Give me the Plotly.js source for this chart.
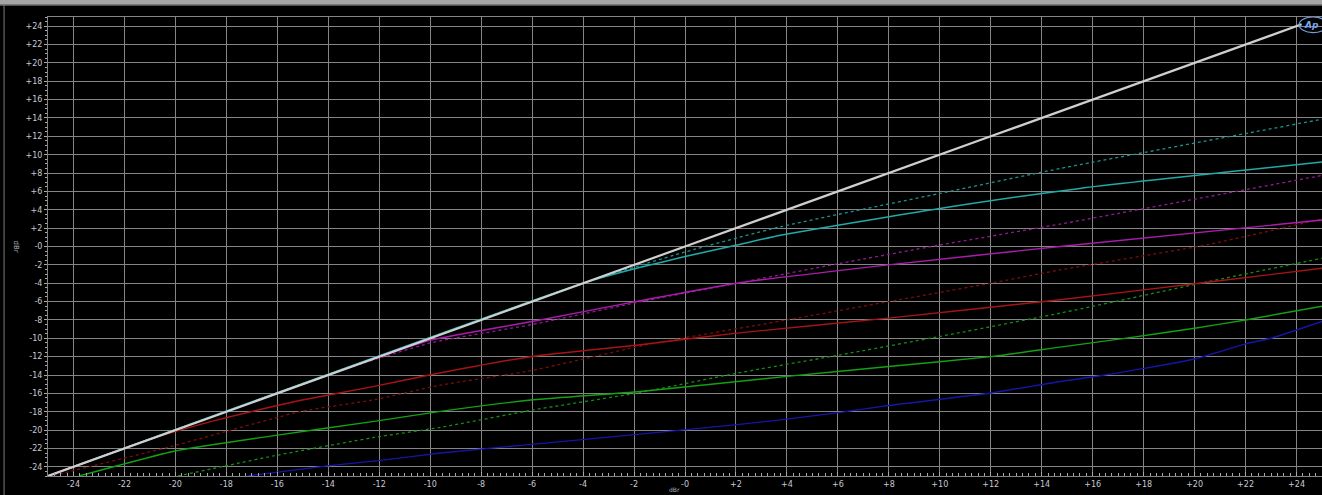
<!DOCTYPE html>
<html>
<head>
<meta charset="utf-8">
<script src="https://cdn.plot.ly/plotly-3.0.1.min.js"></script>
<style>
html,body{margin:0;padding:0;background:#000;overflow:hidden;}
#chart{width:1322px;height:495px;}
</style>
</head>
<body>
<div id="chart"></div>
<script>
// ---- data (dBr in vs dBr out) ----
const tickVals = [-24,-22,-20,-18,-16,-14,-12,-10,-8,-6,-4,-2,0,2,4,6,8,10,12,14,16,18,20,22,24];
const xTickText = ["-24","-22","-20","-18","-16","-14","-12","-10","-8","-6","-4","-2","-0","+2","+4","+6","+8","+10","+12","+14","+16","+18","+20","+22","+24"];
const yTickText = ["-24","-22","-20","-18","-16","-14","-12","-10","-8","-6","-4","-2","-0","+2","+4","+6","+8","+10","+12","+14","+16","+18","+20","+22","+24"];

const whiteX = [-25, -12, 0, 12, 24.2];
const whiteY = [-25, -12, 0, 12, 24.2];

const cyanSolidX = [-25, -4, -1.75, 0, 2.04, 3.75, 10, 15.5, 25];
const cyanSolidY = [-25, -4, -2.27, -1.1, 0.16, 1.23, 4.15, 6.33, 9.2];
const cyanDotX = [-25, -4, 0, 3.75, 10, 14.72, 25];
const cyanDotY = [-25, -4, -0.6, 2.15, 5.78, 8.5, 13.86];

const magSolidX = [-25, -13, -9.98, -6, -1.75, 2.04, 7.98, 14.72, 25];
const magSolidY = [-25, -13, -10.2, -8.17, -5.9, -4.0, -2.0, 0.0, 2.88];
const magDotX = [-25, -13.5, -9.98, -6, -1.36, 2.04, 6.1, 10, 14.72, 25];
const magDotY = [-25, -13.5, -10.5, -8.5, -5.8, -4.0, -1.83, 0.16, 2.44, 7.74];

const redSolidX = [-25, -21, -18.5, -16.13, -15.07, -12.2, -9.98, -6, -1.75, 2.04, 7.98, 14.72, 20.5, 25];
const redSolidY = [-25, -21, -19.0, -17.4, -16.75, -15.24, -13.97, -11.98, -10.7, -9.43, -7.8, -5.8, -3.9, -2.37];
const redDotX = [-25, -24.6, -20.05, -15.07, -12.2, -9.6, -6, -1.5, 4, 8, 12, 14.72, 20.5, 25];
const redDotY = [-25, -24.8, -21.7, -17.96, -16.7, -15.1, -13.5, -10.7, -8.0, -6.0, -4.0, -2.55, 0.2, 3.0];

const greenSolidX = [-23.78, -20.05, -16.13, -12.2, -9.6, -5.95, -1.75, 4, 8, 12, 14.72, 17.33, 20, 22, 25];
const greenSolidY = [-25, -22.3, -20.6, -19.05, -17.96, -16.7, -15.8, -14.15, -13.07, -12.0, -10.96, -9.98, -8.9, -8.0, -6.5];
const greenDotX = [-19.9, -16.13, -12.2, -9.6, -5.95, -1.75, 2.04, 6.1, 10, 14.72, 20.5, 25];
const greenDotY = [-25, -22.8, -20.8, -19.7, -17.8, -15.9, -13.8, -11.8, -9.8, -7.26, -3.85, -1.28];

const blueX = [-17.18, -14.04, -11.95, -9.6, -3.31, 0.05, 2.04, 4, 6.02, 8.05, 12, 14.72, 16.29, 20, 22, 23, 25];
const blueY = [-25, -23.9, -23.3, -22.5, -20.85, -19.95, -19.4, -18.8, -18.1, -17.3, -15.96, -14.7, -14.08, -12.26, -10.6, -10.0, -8.17];

function tr(x, y, color, dash, width) {
  return {x: x, y: y, type: 'scatter', mode: 'lines', hoverinfo: 'skip',
          line: {color: color, width: width, dash: dash, shape: 'spline', smoothing: 0.5}};
}

const traces = [
  tr(blueX, blueY, '#1515a8', 'solid', 1.4),
  tr(greenDotX, greenDotY, '#128e12', 'dot', 1.3),
  tr(greenSolidX, greenSolidY, '#14a014', 'solid', 1.4),
  tr(redDotX, redDotY, '#7e0c0c', 'dot', 1.3),
  tr(redSolidX, redSolidY, '#a81414', 'solid', 1.4),
  tr(magDotX, magDotY, '#941894', 'dot', 1.3),
  tr(magSolidX, magSolidY, '#ac1cac', 'solid', 1.4),
  tr(cyanDotX, cyanDotY, '#1a9494', 'dot', 1.3),
  tr(cyanSolidX, cyanSolidY, '#20aaaa', 'solid', 1.5),
  tr(whiteX, whiteY, '#cfcfcf', 'solid', 2.2)
];

const gridColor = '#858585';
const tickFont = {family: 'DejaVu Sans, sans-serif', size: 8, color: '#c8c8d4'};

const layout = {
  width: 1322, height: 495,
  margin: {l: 48, r: 0, t: 17, b: 19, pad: 0},
  paper_bgcolor: '#000', plot_bgcolor: '#000',
  showlegend: false,
  xaxis: {
    range: [-25, 25], fixedrange: true,
    tickvals: tickVals, ticktext: xTickText,
    tickfont: tickFont, ticks: 'inside', ticklen: 4, tickcolor: '#aaaaaa', tickwidth: 1,
    showgrid: true, gridcolor: gridColor, gridwidth: 1,
    zeroline: false, showline: true, linecolor: gridColor, linewidth: 1, mirror: true,
    minor: {dtick: 0.25, tick0: 0, ticks: 'inside', ticklen: 3, tickcolor: '#a8a8a8', tickwidth: 1, showgrid: false}
  },
  yaxis: {
    range: [-25, 25], fixedrange: true,
    tickvals: tickVals, ticktext: yTickText,
    tickfont: tickFont, ticks: 'outside', ticklen: 3, tickcolor: '#aaaaaa', tickwidth: 1,
    showgrid: true, gridcolor: gridColor, gridwidth: 1,
    zeroline: false, showline: true, linecolor: gridColor, linewidth: 1, mirror: true,
    minor: {dtick: 0.5, tick0: 0, ticks: 'outside', ticklen: 2, tickcolor: '#a8a8a8', tickwidth: 1, showgrid: false}
  },
  shapes: [
    {type: 'rect', xref: 'paper', yref: 'paper', x0: -0.05, x1: 1.01, y0: 1.026, y1: 1.05,
     fillcolor: '#a4a4a4', line: {width: 0}, layer: 'above'},
    {type: 'line', xref: 'paper', yref: 'paper', x0: -0.05, x1: 1.01, y0: 1.026, y1: 1.026,
     line: {color: '#6a6a6a', width: 1.5}, layer: 'above'},
    {type: 'line', xref: 'paper', yref: 'paper', x0: -0.0345, x1: -0.0345, y0: -0.05, y1: 1.026,
     line: {color: '#7a7a7a', width: 1}, layer: 'above'},
    {type: 'circle', xref: 'x', yref: 'y', x0: 24.1, x1: 25.2, y0: 23.3, y1: 25.0,
     line: {color: '#6f9ee6', width: 1.2}, fillcolor: 'rgba(0,0,0,0)', layer: 'above'}
  ],
  annotations: [
    {text: 'dBr', xref: 'paper', yref: 'paper', x: -0.0298, y: 0.5, showarrow: false,
     textangle: 90, font: {family: 'DejaVu Sans, sans-serif', size: 7, color: '#b0b0c0'}},
    {text: 'dBr', xref: 'paper', yref: 'paper', x: 0.492, y: -0.0395, yanchor: 'bottom', showarrow: false,
     borderpad: 0, font: {family: 'DejaVu Sans, sans-serif', size: 6, color: '#b0b0c0'}},
    {text: '<b><i>Ap</i></b>', xref: 'x', yref: 'y', x: 24.6, y: 24.1, showarrow: false,
     font: {family: 'DejaVu Sans, sans-serif', size: 9, color: '#7aa6ee'}}
  ]
};

Plotly.newPlot('chart', traces, layout, {staticPlot: true, displayModeBar: false});
</script>
</body>
</html>
